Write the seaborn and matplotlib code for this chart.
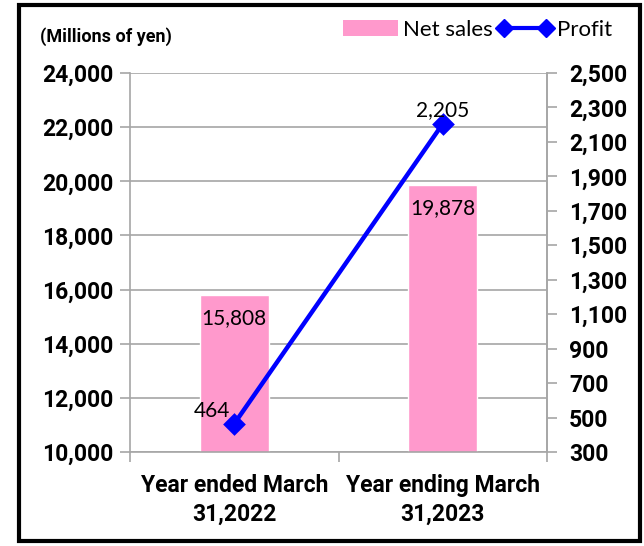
import matplotlib
matplotlib.use("Agg")
import matplotlib.pyplot as plt
import seaborn as sns
import pandas as pd
from matplotlib.patches import Rectangle, Patch
from matplotlib.lines import Line2D
from matplotlib.ticker import FuncFormatter, FixedLocator

categories = ["Year ended March\n31,2022", "Year ending March\n31,2023"]
net_sales = [15808, 19878]
profit = [464, 2205]
left_ticks = [10000, 12000, 14000, 16000, 18000, 20000, 22000, 24000]
right_ticks = [300, 500, 700, 900, 1100, 1300, 1500, 1700, 1900, 2100, 2300, 2500]

sns.set_style("white")
plt.rcParams['font.family'] = ['Lato', 'DejaVu Sans']
plt.rcParams['text.color'] = 'black'
BOLD = ['Roboto', 'DejaVu Sans']

PINK = "#FF99CC"
BLUE = "#0000FF"
GRID = "#A6A6A6"

fig = plt.figure(figsize=(6.44, 5.46), dpi=100)
ax = fig.add_axes([130/644, 1-452/546, (547-130)/644, (452-73)/546])

df = pd.DataFrame({"cat": categories, "sales": net_sales, "profit": profit})
sns.barplot(data=df, x="cat", y="sales", color=PINK, width=0.33, ax=ax,
            saturation=1, zorder=2)
ax.set_ylim(10000, 24000)
ax.set_xlim(-0.5, 1.5)
ax.yaxis.set_major_locator(FixedLocator(left_ticks))
ax.yaxis.set_major_formatter(FuncFormatter(lambda v, p: f"{int(v):,}"))
ax.grid(axis="y", color=GRID, linewidth=1.2, zorder=0)
ax.set_axisbelow(True)
ax.set_xlabel("")
ax.set_ylabel("")
ax.spines["top"].set_visible(False)
for s in ["left", "bottom", "right"]:
    ax.spines[s].set_color(GRID)
    ax.spines[s].set_linewidth(1.2)
ax.tick_params(axis="y", which="major", left=True, length=7, color=GRID, width=1.2,
               pad=5, labelsize=16.5, labelcolor="black")
ax.tick_params(axis="x", which="major", length=0, pad=16, labelsize=16.5, labelcolor="black")
ax.set_xticks([-0.5, 0.5, 1.5], minor=True)
ax.tick_params(axis="x", which="minor", bottom=True, length=7, color=GRID, width=1.2)
for lbl in ax.get_yticklabels() + ax.get_xticklabels():
    lbl.set_fontweight("bold")
    lbl.set_family(BOLD)
for lbl in ax.get_xticklabels():
    lbl.set_linespacing(1.3)

for i, v in enumerate(net_sales):
    ax.text(i, v - 500, f"{v:,}", ha="center", va="top", fontsize=15, zorder=5,
            color="black")

ax2 = ax.twinx()
sns.pointplot(data=df, x="cat", y="profit", color=BLUE, markers="D", linestyles="-",
              ax=ax2, markersize=9, linewidth=3.2)
ax2.set_ylim(300, 2500)
ax2.set_xlim(-0.5, 1.5)
ax2.yaxis.set_major_locator(FixedLocator(right_ticks))
ax2.yaxis.set_major_formatter(FuncFormatter(lambda v, p: f"{int(v):,}"))
ax2.set_ylabel("")
ax2.set_xlabel("")
ax2.grid(False)
for s in ["top", "left", "bottom"]:
    ax2.spines[s].set_visible(False)
ax2.spines["right"].set_color(GRID)
ax2.spines["right"].set_linewidth(1.2)
ax2.tick_params(axis="y", right=True, length=7, color=GRID, width=1.2, pad=9, labelsize=16.5,
                labelcolor="black")
for lbl in ax2.get_yticklabels():
    lbl.set_fontweight("bold")
    lbl.set_family(BOLD)

ax2.annotate(f"{profit[0]:,}", (0, profit[0]), xytext=(-3, 2), textcoords="offset points",
             ha="right", va="bottom", fontsize=15, color="black")
ax2.annotate(f"{profit[1]:,}", (1, profit[1]), xytext=(0, 3), textcoords="offset points",
             ha="center", va="bottom", fontsize=15, color="black")

fig.text(40/644, 1-37/546, "(Millions of yen)", fontsize=13, fontweight="bold",
         family=BOLD, ha="left", va="center", color="black")

handles = [Patch(facecolor=PINK, edgecolor="none"),
           Line2D([0], [0], color=BLUE, lw=3, marker="D", markersize=9)]
leg = fig.legend(handles, ["Net sales", "Profit"], loc="center right",
                 bbox_to_anchor=(612/644, 1-30/546), ncol=2, frameon=False, fontsize=16,
                 numpoints=2, handlelength=2.5, handletextpad=0.2, columnspacing=0.2,
                 borderaxespad=0, borderpad=0)
for t in leg.get_texts():
    t.set_color("black")

fig.patches.append(Rectangle((19/644, 1-541/546), (640-19)/644, (541-5)/546,
                             transform=fig.transFigure, fill=False, edgecolor="black",
                             linewidth=3))

fig.savefig("out.png", dpi=100)
